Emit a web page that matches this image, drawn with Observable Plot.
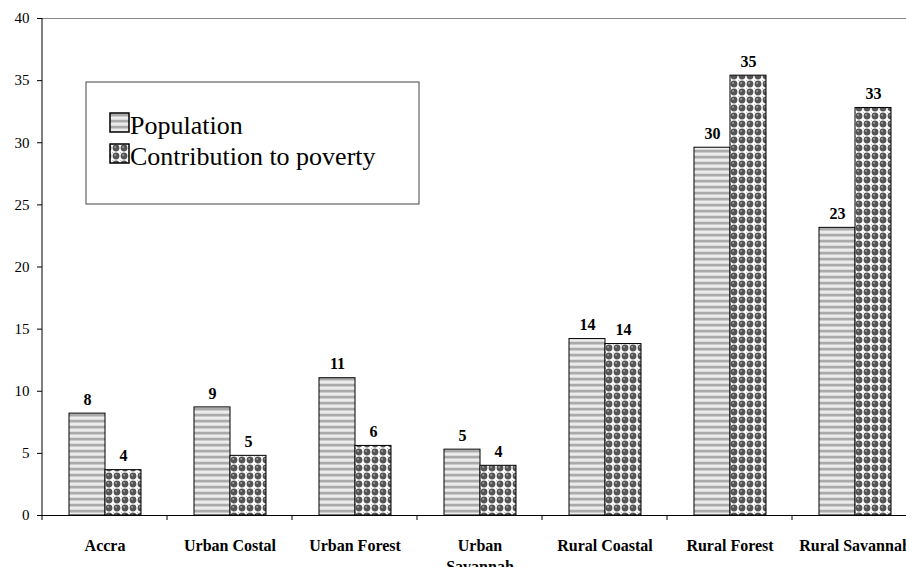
<!DOCTYPE html>
<html>
<head>
<meta charset="utf-8">
<script src="https://cdn.jsdelivr.net/npm/d3@7"></script>
<script src="https://cdn.jsdelivr.net/npm/@observablehq/plot@0.6"></script>
<style>
  html, body { margin: 0; padding: 0; background: #fff; }
  #wrap { position: relative; width: 906px; height: 567px; overflow: hidden; background: #fff; }
  #chart svg { display: block; max-width: none !important; }
  #legend { position: absolute; left: 0; top: 0; }
</style>
</head>
<body>
<!-- fill patterns shared by the bars and the legend swatches -->
<svg width="0" height="0" style="position:absolute">
  <defs>
    <pattern id="stripes" width="8" height="6" patternUnits="userSpaceOnUse">
      <rect x="0" y="0" width="8" height="6" fill="#ececec"/>
      <rect x="0" y="0" width="8" height="2" fill="#aaaaaa"/>
      <rect x="0" y="2" width="8" height="1" fill="#cbcbcb"/>
      <rect x="0" y="5" width="8" height="1" fill="#dadada"/>
    </pattern>
    <pattern id="balls" width="8" height="8" patternUnits="userSpaceOnUse">
      <rect x="0" y="0" width="8" height="8" fill="#ffffff"/>
      <circle cx="4" cy="4" r="3.4" fill="#555555"/>
      <circle cx="3.1" cy="2.9" r="1" fill="#9a9a9a"/>
      <rect x="0" y="0" width="1" height="1" fill="#bbbbbb"/>
    </pattern>
  </defs>
</svg>

<div id="wrap">
  <div id="chart"></div>
  <svg id="legend" width="906" height="567"></svg>
</div>

<script>
// Regions and their share of population / contribution to poverty (%)
const categories = ["Accra", "Urban Costal", "Urban Forest", "Urban Savannah", "Rural Coastal", "Rural Forest", "Rural Savannah"];
const tickLabels = ["Accra", "Urban Costal", "Urban Forest", "Urban\nSavannah", "Rural Coastal", "Rural Forest", "Rural Savannah"];
const series = ["Population", "Contribution to poverty"];
const population = [8.2, 8.7, 11.05, 5.3, 14.2, 29.6, 23.15];
const contribution = [3.65, 4.8, 5.6, 4.0, 13.8, 35.4, 32.8];
const yTicks = [0, 5, 10, 15, 20, 25, 30, 35, 40];

const fills = {"Population": "url(#stripes)", "Contribution to poverty": "url(#balls)"};

const popRows = categories.map((c, i) => ({category: c, series: series[0], value: population[i]}));
const contRows = categories.map((c, i) => ({category: c, series: series[1], value: contribution[i]}));
const rows = popRows.concat(contRows);

const serif = '"Liberation Serif", "Times New Roman", serif';

const chart = Plot.plot({
  width: 918,
  height: 567,
  marginLeft: 41,
  marginRight: 0,
  marginTop: 18,
  marginBottom: 52,
  style: {fontFamily: serif, background: "white", color: "black", overflow: "visible", maxWidth: "none"},
  fx: {domain: categories, padding: 0, label: null, axis: null},
  x: {domain: series, paddingInner: 0, paddingOuter: 0.69, axis: null},
  y: {domain: [0, 40], axis: null},
  marks: [
    Plot.ruleY([40], {stroke: "#888", strokeWidth: 1}),
    Plot.barY(popRows, {fx: "category", x: "series", y: "value", fill: fills[series[0]], stroke: "black", strokeWidth: 1, inset: 0}),
    Plot.barY(contRows, {fx: "category", x: "series", y: "value", fill: fills[series[1]], stroke: "black", strokeWidth: 1, inset: 0}),
    Plot.text(rows, {fx: "category", x: "series", y: "value", text: d => String(Math.round(d.value)),
      dy: -14, fontSize: 16, fontWeight: "bold", fill: "black", fontFamily: serif}),
    Plot.ruleY([0], {stroke: "black", strokeWidth: 1}),
    Plot.axisY({ticks: yTicks, tickSize: 5, tickPadding: 8, fontSize: 15, label: null, stroke: "black", fill: "black", fontFamily: serif}),
    Plot.axisFx({anchor: "bottom", tickSize: 0, tickPadding: 21, fontSize: 16, fontWeight: "bold",
      lineHeight: 1.3, label: null, fill: "black", fontFamily: serif,
      tickFormat: d => tickLabels[categories.indexOf(d)]})
  ]
});
document.getElementById("chart").appendChild(chart);

// y axis line and tick marks between the region groups, placed through the chart's own scales
const fxScale = chart.scale("fx");
const yScale = chart.scale("y");
const svg = d3.select(chart);
const y0 = yScale.apply(0), y40 = yScale.apply(40);
const left = fxScale.apply(categories[0]);
const g = svg.append("g").attr("stroke", "black").attr("stroke-width", 1);
g.append("line").attr("x1", left).attr("x2", left).attr("y1", y40).attr("y2", y0);
const bounds = categories.map(c => fxScale.apply(c));
bounds.push(fxScale.apply(categories[categories.length - 1]) + fxScale.bandwidth);
bounds.forEach(x => {
  g.append("line").attr("x1", x).attr("x2", x).attr("y1", y0).attr("y2", y0 + 5);
});

// legend box inside the plot area
const lg = d3.select("#legend");
lg.append("rect").attr("x", 86).attr("y", 82).attr("width", 333).attr("height", 122)
  .attr("fill", "white").attr("stroke", "#444").attr("stroke-width", 1);
const legendRows = [
  {name: series[0], y: 134},
  {name: series[1], y: 165}
];
legendRows.forEach(r => {
  lg.append("rect").attr("x", 110).attr("y", r.y - 21).attr("width", 19).attr("height", 19)
    .attr("fill", fills[r.name]).attr("stroke", "black").attr("stroke-width", 1.5);
  lg.append("text").attr("x", 130).attr("y", r.y).text(r.name)
    .style("font-family", serif).attr("font-size", 26).attr("fill", "black");
});
</script>
</body>
</html>
